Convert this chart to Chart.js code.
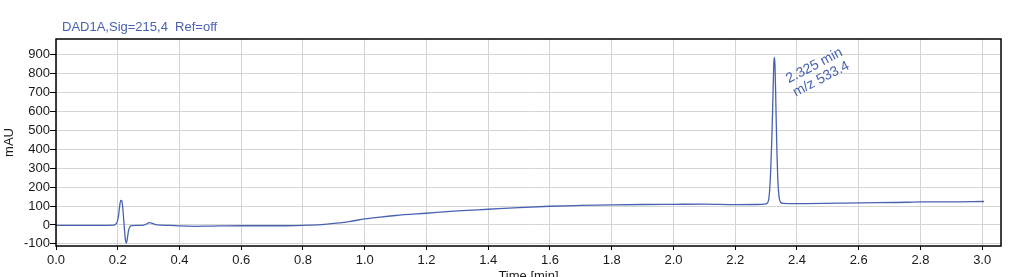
<!DOCTYPE html>
<html><head><meta charset="utf-8">
<script src="https://cdn.jsdelivr.net/npm/chart.js@4.4.1/dist/chart.umd.min.js"></script>
<style>html,body{margin:0;padding:0;background:#fff;}canvas{display:block;}</style>
</head><body>
<canvas id="c" width="1016" height="277"></canvas>
<script>
// ---- data ----
const times  = [0.000,0.100,0.150,0.185,0.192,0.198,0.203,0.207,0.210,0.213,0.216,0.219,0.222,0.225,0.228,0.231,0.235,0.240,0.246,0.260,0.280,0.292,0.302,0.312,0.322,0.340,0.370,0.400,0.450,0.500,0.600,0.700,0.780,0.820,0.860,0.900,0.950,1.000,1.050,1.100,1.200,1.300,1.400,1.500,1.600,1.700,1.800,1.900,2.000,2.100,2.200,2.270,2.300,2.306,2.311,2.315,2.319,2.322,2.325,2.327,2.329,2.332,2.335,2.338,2.342,2.347,2.355,2.400,2.600,2.760,2.800,2.900,3.006];
const signal = [-2,-2,-2,-1,3,15,55,110,130,128,95,35,-30,-80,-95,-72,-30,-8,-3,-2,-2,4,12,9,2,-1,-2,-5,-7,-6,-4,-4,-3,-1,2,8,18,32,42,50,62,74,83,92,99,103,106,108,109,110,107,108,112,120,170,290,470,660,850,885,840,620,400,240,150,120,114,113,117,120,122,122,124];
const xTicks = [0.0,0.2,0.4,0.6,0.8,1.0,1.2,1.4,1.6,1.8,2.0,2.2,2.4,2.6,2.8,3.0];
const xTickLabels = ['0.0','0.2','0.4','0.6','0.8','1.0','1.2','1.4','1.6','1.8','2.0','2.2','2.4','2.6','2.8','3.0'];
const yTicks = [-100,0,100,200,300,400,500,600,700,800,900];
const yTickLabels = ['-100','0','100','200','300','400','500','600','700','800','900'];
const chartTitle = 'DAD1A,Sig=215,4  Ref=off';
const xTitle = 'Time [min]';
const yTitle = 'mAU';
const peakTime = 2.325;
const peakHeight = 885;
const peakLabels = ['2.325 min', 'm/z 533.4'];

// ---- styles ----
const BLUE = '#4862b2';
const FONT = '"Liberation Sans", Arial, sans-serif';
const TXT = '#1a1a1a';
const GRID = '#d4d4d4';

const framePlugin = {
  id: 'frame',
  afterDraw(chart) {
    const {ctx, chartArea: a, scales} = chart;
    ctx.save();
    ctx.strokeStyle = '#000';
    ctx.lineWidth = 1.5;
    ctx.strokeRect(a.left, a.top, a.right - a.left, a.bottom - a.top);
    ctx.fillStyle = BLUE;
    ctx.font = '13px ' + FONT;
    ctx.textAlign = 'left';
    ctx.textBaseline = 'alphabetic';
    ctx.fillText(chartTitle, a.left + 6, a.top - 8.5);
    const px = scales.x.getPixelForValue(peakTime) + 15;
    const py = scales.y.getPixelForValue(peakHeight) + 26;
    ctx.font = '14px ' + FONT;
    ctx.translate(px, py);
    ctx.rotate(-27.5 * Math.PI / 180);
    ctx.fillText(peakLabels[0], 0, 0);
    ctx.fillText(peakLabels[1], 0, 15);
    ctx.restore();
  }
};

new Chart(document.getElementById('c'), {
  type: 'line',
  data: {
    datasets: [{
      data: times.map((t, i) => ({x: t, y: signal[i]})),
      borderColor: BLUE,
      borderWidth: 1.3,
      pointRadius: 0,
      fill: false,
      cubicInterpolationMode: 'monotone'
    }]
  },
  options: {
    responsive: false,
    devicePixelRatio: 1,
    animation: false,
    layout: {padding: {top: 39, right: 15, left: 0, bottom: 0}},
    plugins: {legend: {display: false}, tooltip: {enabled: false}, title: {display: false}},
    scales: {
      x: {
        type: 'linear', min: 0, max: 3.061,
        afterBuildTicks: s => { s.ticks = xTicks.map(v => ({value: v})); },
        afterFit: s => { s.height = 31; },
        ticks: {callback: (v, i) => xTickLabels[i], autoSkip: false, maxRotation: 0, padding: 3, color: TXT, font: {family: FONT, size: 13}},
        grid: {color: GRID, lineWidth: 1, drawTicks: true, tickLength: 4, tickColor: '#000', tickWidth: 1},
        border: {display: false},
        title: {display: true, text: xTitle, color: TXT, font: {family: FONT, size: 13}, padding: {top: 0, bottom: -7}}
      },
      y: {
        type: 'linear', min: -111, max: 982,
        afterBuildTicks: s => { s.ticks = yTicks.map(v => ({value: v})); },
        afterFit: s => { s.width = 56; },
        ticks: {callback: (v, i) => yTickLabels[i], autoSkip: false, padding: 0, color: TXT, font: {family: FONT, size: 13}},
        grid: {color: GRID, lineWidth: 1, drawTicks: true, tickLength: 6, tickColor: '#000', tickWidth: 1},
        border: {display: false},
        title: {display: true, text: yTitle, color: TXT, font: {family: FONT, size: 13}, padding: {top: 1.5, bottom: 0}}
      }
    }
  },
  plugins: [framePlugin]
});
</script>
</body></html>
